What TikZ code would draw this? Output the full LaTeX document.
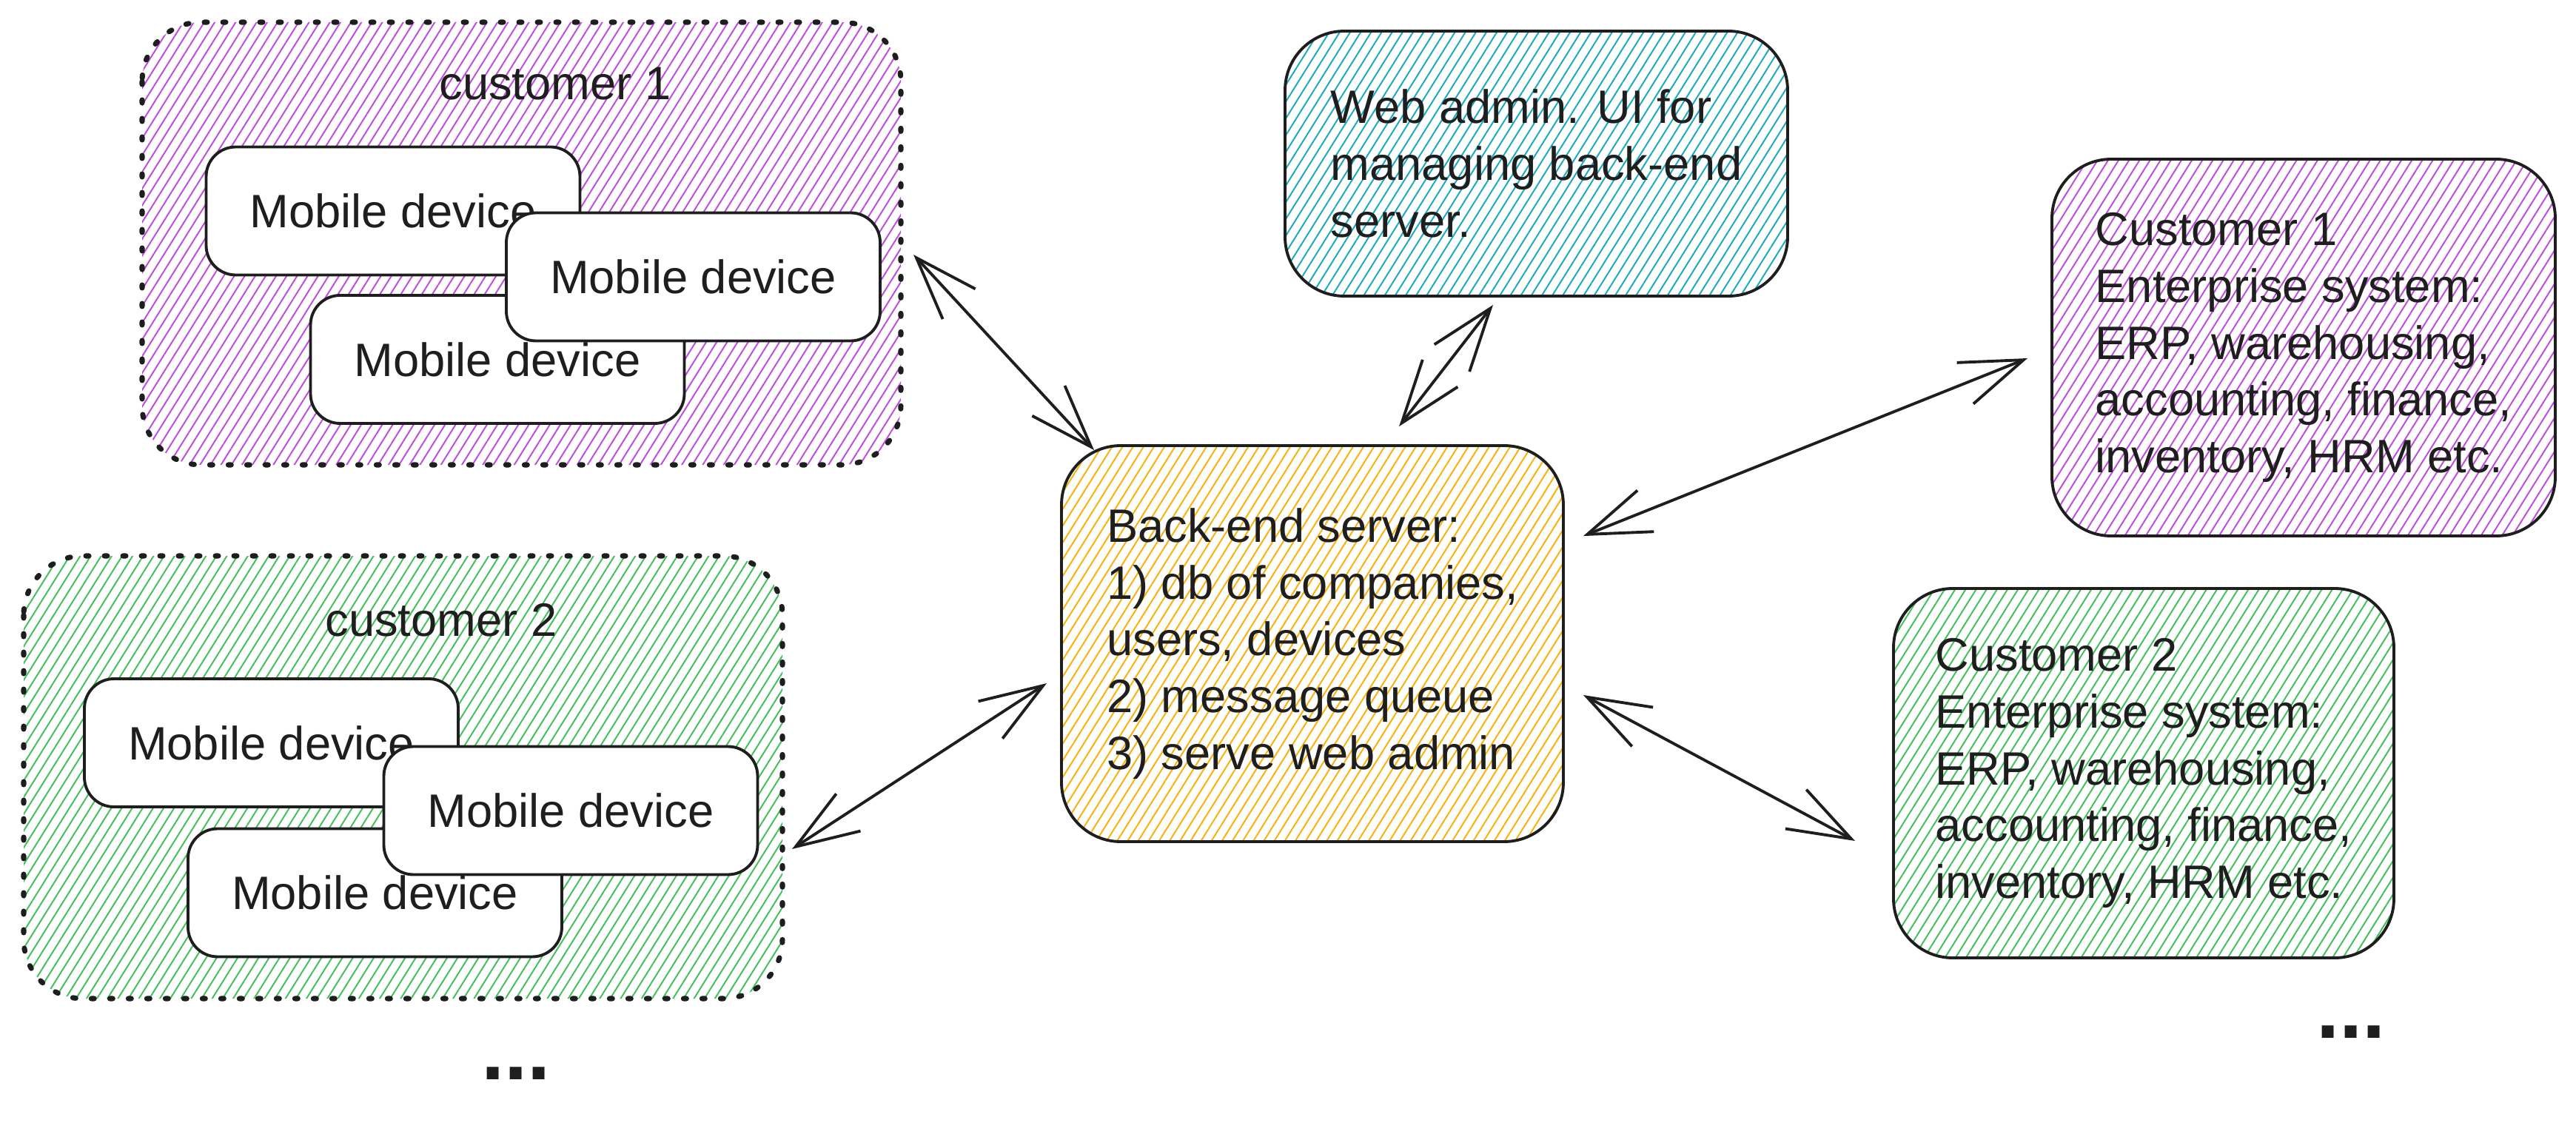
\documentclass[tikz,border=0pt]{standalone}
\usepackage{fontspec}
\setmainfont{Liberation Sans}
\usetikzlibrary{arrows.meta, patterns.meta}
\definecolor{grape}{HTML}{BE4BDB}
\definecolor{leaf}{HTML}{40C057}
\definecolor{aqua}{HTML}{15AABF}
\definecolor{amber}{HTML}{FAB005}
\definecolor{ink}{HTML}{1E1E1E}

\begin{document}
\begin{tikzpicture}[
  every node/.style={text=ink, font=\fontsize{18}{21.8}\selectfont},
  grpbox/.style={rounded corners=0.8cm, inner sep=0pt, outer sep=0pt,
    minimum width=10.25cm, minimum height=5.98cm},
  grpline/.style={draw=ink, rounded corners=0.8cm, line width=2pt,
    dash pattern=on 0.04cm off 0.21cm, line cap=round},
  device/.style={draw=ink, fill=white, rounded corners=0.4cm, line width=1.1pt,
    minimum width=5.05cm, minimum height=1.73cm},
  card/.style={draw=ink, rounded corners=0.8cm, line width=1.1pt,
    align=left, inner sep=0pt},
  hatch/.style={pattern={Lines[angle=58, distance=0.12cm, line width=0.55pt]},
    pattern color=#1},
  conn/.style={draw=ink, line width=1.1pt,
    {Straight Barb[length=0.85cm, width=0.6cm]}-{Straight Barb[length=0.85cm, width=0.6cm]}},
]

% Canvas
\useasboundingbox (0,0) rectangle (34.8,-15.36);

% Customer 1 -- mobile devices
\node[grpbox, hatch=grape] (grp1) at (7.045,-3.29) {};
\draw[grpline] (grp1.north west) rectangle (grp1.south east);
\node (lbl1) at (7.50,-1.13) {customer 1};
\node[device] (dev1a) at (5.31,-2.85) {Mobile device};
\node[device] (dev1c) at (6.72,-4.855) {Mobile device};
\node[device] (dev1b) at (9.365,-3.74) {Mobile device};

% Customer 2 -- mobile devices
\node[grpbox, hatch=leaf] (grp2) at (5.445,-10.50) {};
\draw[grpline] (grp2.north west) rectangle (grp2.south east);
\node (lbl2) at (5.96,-8.38) {customer 2};
\node[device] (dev2a) at (3.665,-10.035) {Mobile device};
\node[device] (dev2c) at (5.065,-12.06) {Mobile device};
\node[device] (dev2b) at (7.71,-10.95) {Mobile device};

\node[font=\fontsize{32}{32}\selectfont\bfseries] (more1) at (6.97,-14.50) {...};

% Web admin
\node[card, hatch=aqua, minimum width=6.79cm, minimum height=3.58cm] (web) at (20.755,-2.21)
  {Web admin. UI for\\ managing back-end\\ server.};

% Back-end server
\node[card, hatch=amber, minimum width=6.78cm, minimum height=5.35cm] (server) at (17.73,-8.695)
  {Back-end server:\\ 1) db of companies,\\ users, devices\\ 2) message queue\\ 3) serve web admin};

% Enterprise systems
\node[card, hatch=grape, minimum width=6.80cm, minimum height=5.09cm] (es1) at (31.12,-4.695)
  {Customer 1\\ Enterprise system:\\ ERP, warehousing,\\ accounting, finance,\\ inventory, HRM etc.};

\node[card, hatch=leaf, minimum width=6.76cm, minimum height=4.99cm] (es2) at (28.96,-10.445)
  {Customer 2\\ Enterprise system:\\ ERP, warehousing,\\ accounting, finance,\\ inventory, HRM etc.};

\node[font=\fontsize{32}{32}\selectfont\bfseries] (more2) at (31.76,-13.94) {...};

% Connections
\draw[conn] ([shift={(0.17,-0.15)}]grp1.east) -- ([shift={(0.46,-0.08)}]server.north west);
\draw[conn] ([shift={(-0.585,-0.10)}]web.south) -- ([shift={(1.17,0.24)}]server.north);
\draw[conn] ([shift={(0.25,-1.24)}]server.north east) -- ([shift={(-0.31,-0.145)}]es1.west);
\draw[conn] ([shift={(0.25,-0.695)}]server.east) -- ([shift={(-0.50,-0.915)}]es2.west);
\draw[conn] ([shift={(0.13,-0.97)}]grp2.east) -- ([shift={(-0.18,-0.535)}]server.west);

\end{tikzpicture}
\end{document}
